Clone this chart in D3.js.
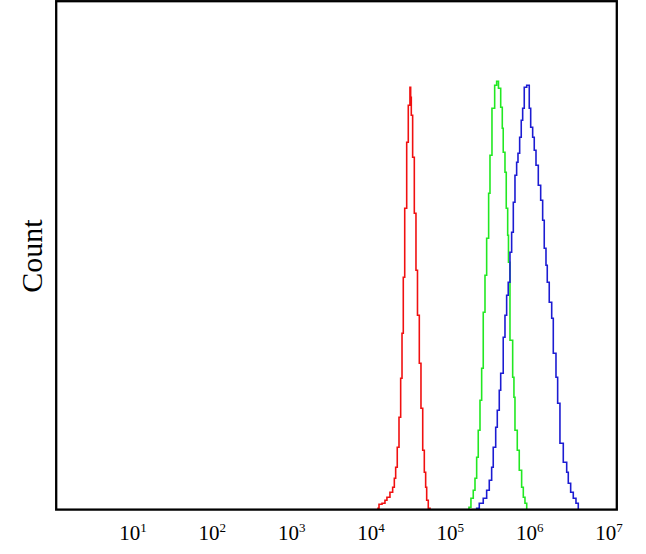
<!DOCTYPE html>
<html>
<head>
<meta charset="utf-8">
<script src="https://cdn.jsdelivr.net/npm/d3@7"></script>
<style>
  html, body { margin: 0; padding: 0; background: #fff; }
  svg { display: block; }
</style>
</head>
<body>
<svg id="chart" width="646" height="554"></svg>
<script>
// ---- data (log10 of fluorescence at bin left edges, and counts) ----
const tickExponents = [1, 2, 3, 4, 5, 6, 7];
const yLabel = "Count";

const redLog = [4.088,4.101,4.139,4.176,4.201,4.239,4.273,4.294,4.311,4.331,4.353,4.374,4.391,4.407,4.425,4.450,4.470,4.491,4.500,4.508,4.525,4.546,4.567,4.586,4.609,4.630,4.652,4.672,4.689,4.702,4.722];
const redCount = [1,5,6,9,12,17,22,31,42,62,92,131,176,232,301,367,404,422,412,394,352,296,239,194,146,101,59,37,22,9,1];
const redEnd = 4.744;

const greenLog = [5.235,5.260,5.289,5.311,5.332,5.352,5.374,5.395,5.415,5.437,5.458,5.483,5.500,5.525,5.559,5.584,5.607,5.635,5.655,5.667,5.689,5.705,5.723,5.733,5.752,5.786,5.802,5.815,5.844,5.869,5.899,5.920,5.941];
const greenCount = [2,11,19,31,52,79,109,141,197,234,271,316,354,401,424,428,421,402,381,357,337,301,274,247,169,132,112,79,59,39,22,12,6];
const greenEnd = 5.963;

const blueLog = [5.332,5.365,5.415,5.458,5.491,5.521,5.541,5.572,5.592,5.617,5.635,5.667,5.689,5.710,5.730,5.752,5.773,5.794,5.815,5.836,5.853,5.874,5.894,5.912,5.932,5.963,5.995,6.013,6.038,6.058,6.080,6.109,6.139,6.164,6.184,6.206,6.222,6.247,6.278,6.298,6.332,6.353,6.382,6.424,6.467,6.487,6.517,6.550,6.584];
const blueCount = [1,6,11,19,29,42,62,82,99,119,136,172,194,214,227,257,277,307,334,347,356,372,389,401,422,424,401,382,372,359,344,324,309,289,261,244,227,207,191,156,132,106,66,47,37,26,17,11,6];
const blueEnd = 6.613;

const seriesColors = { red: "#f01010", green: "#22e822", blue: "#1c1cd2" };

// ---- layout ----
const frame = { left: 56.2, top: 1.2, right: 616.8, bottom: 509.6 };

const svg = d3.select("#chart");

const x = d3.scaleLog().domain([1, 1e8]).range([53.7, 688.3]);
const y = d3.scaleLinear().domain([0, 508]).range([509.3, 1.3]);

function buildPoints(logs, counts, end) {
  const pts = [{ v: Math.pow(10, logs[0]), c: 0 }];
  logs.forEach((l, i) => pts.push({ v: Math.pow(10, l), c: counts[i] }));
  pts.push({ v: Math.pow(10, end), c: 0 });
  return pts;
}

const line = d3.line()
  .x(d => x(d.v))
  .y(d => y(d.c))
  .curve(d3.curveStepAfter);

const series = [
  { name: "red", pts: buildPoints(redLog, redCount, redEnd) },
  { name: "green", pts: buildPoints(greenLog, greenCount, greenEnd) },
  { name: "blue", pts: buildPoints(blueLog, blueCount, blueEnd) }
];

svg.append("defs").append("clipPath").attr("id", "plotclip")
  .append("rect")
  .attr("x", frame.left).attr("y", frame.top)
  .attr("width", frame.right - frame.left)
  .attr("height", frame.bottom - frame.top);

const g = svg.append("g").attr("clip-path", "url(#plotclip)");
series.forEach(s => {
  g.append("path")
    .datum(s.pts)
    .attr("d", line)
    .attr("fill", "none")
    .attr("stroke", seriesColors[s.name])
    .attr("stroke-width", 1.6)
    .attr("stroke-linejoin", "miter");
});

// frame
svg.append("rect")
  .attr("x", frame.left).attr("y", frame.top)
  .attr("width", frame.right - frame.left)
  .attr("height", frame.bottom - frame.top)
  .attr("fill", "none")
  .attr("stroke", "#000")
  .attr("stroke-width", 2.3);

// x tick labels
const labels = svg.append("g")
  .attr("font-family", "'Liberation Serif', 'DejaVu Serif', serif")
  .attr("fill", "#000");

tickExponents.forEach(e => {
  const t = labels.append("text")
    .attr("x", x(Math.pow(10, e)))
    .attr("y", 540)
    .attr("text-anchor", "middle")
    .attr("font-size", 21);
  t.append("tspan").text("10");
  t.append("tspan").attr("font-size", 13).attr("dy", -8).text(String(e));
});

// y label
svg.append("text")
  .attr("transform", "translate(42,256) rotate(-90)")
  .attr("text-anchor", "middle")
  .attr("font-family", "'Liberation Serif', 'DejaVu Serif', serif")
  .attr("font-size", 30)
  .attr("fill", "#000")
  .text(yLabel);
</script>
</body>
</html>
